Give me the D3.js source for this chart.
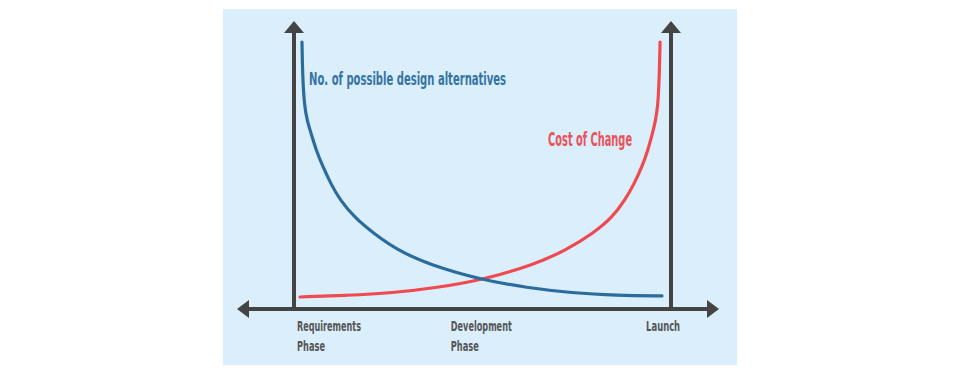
<!DOCTYPE html>
<html>
<head>
<meta charset="utf-8">
<script src="https://cdn.jsdelivr.net/npm/d3@7"></script>
<style>
  body { margin: 0; background: #fff; }
  text { font-family: "Liberation Sans Narrow", "DejaVu Sans Condensed", "Roboto", sans-serif; font-weight: bold; }
</style>
</head>
<body>
<script>
var w = 960, h = 372;

// project progress (0 = start, 100 = launch) vs relative level
var designX = [2.12, 2.2, 2.4, 2.8, 3.5, 4.51, 5.84, 7.69, 9.81, 12.2, 16.18, 20.95, 27.32, 36.07, 49.87, 61.7, 73.7, 85.7, 97.61];
var designY = [100, 93, 84, 76, 70.5, 65.9, 59.6, 53.2, 46.8, 40.8, 34.1, 28.5, 22.1, 16.5, 10.9, 8.0, 6.0, 5.1, 4.9];
var costX = [1.6, 14, 26, 38, 49.87, 63.5, 72.3, 79.5, 84.3, 87.8, 90.2, 92.3, 93.9, 95.1, 95.9, 96.5, 96.8, 97.0, 97.1];
var costY = [4.5, 5.1, 6.0, 8.0, 10.9, 16.5, 22.1, 28.5, 34.1, 40.8, 46.8, 53.2, 59.6, 65.9, 70.5, 76, 84, 93, 100];

var phaseLines = [["Requirements", "Phase"], ["Development", "Phase"], ["Launch"]];
var phaseAt = [0.8, 41.6, 93.4];
var phaseWidths = [[64, 28], [61, 28], [34]];

var svg = d3.select("body").append("svg").attr("width", w).attr("height", h);

svg.append("rect")
    .attr("x", 223).attr("y", 9)
    .attr("width", 514).attr("height", 356)
    .style("fill", "#dbeefc");

var xScale = d3.scaleLinear().domain([0, 100]).range([294, 671]);
var yScale = d3.scaleLinear().domain([0, 100]).range([309, 42]);

var axisColor = "#444444";
var x0 = xScale(0), x1 = xScale(100), y0 = yScale(0);
var arrowTop = 21;

// axis lines
svg.append("line").attr("x1", 245).attr("x2", 711).attr("y1", y0).attr("y2", y0)
    .style("stroke", axisColor).style("stroke-width", 4);
[x0, x1].forEach(function (xx) {
    svg.append("line").attr("x1", xx).attr("x2", xx).attr("y1", y0 + 2).attr("y2", arrowTop + 8)
        .style("stroke", axisColor).style("stroke-width", 4);
    svg.append("path")
        .attr("d", "M" + xx + "," + arrowTop + "L" + (xx + 10) + "," + (arrowTop + 12) + "L" + (xx - 10) + "," + (arrowTop + 12) + "Z")
        .style("fill", axisColor);
});
svg.append("path")
    .attr("d", "M237," + y0 + "L249," + (y0 - 9) + "L249," + (y0 + 9) + "Z")
    .style("fill", axisColor);
svg.append("path")
    .attr("d", "M719," + y0 + "L707," + (y0 - 9) + "L707," + (y0 + 9) + "Z")
    .style("fill", axisColor);

var line = d3.line()
    .x(function (d) { return xScale(d[0]); })
    .y(function (d) { return yScale(d[1]); })
    .curve(d3.curveBasis);

svg.append("path")
    .attr("d", line(d3.zip(costX, costY)))
    .style("fill", "none").style("stroke", "#ee4a50").style("stroke-width", 3.2)
    .style("stroke-linecap", "round");

svg.append("path")
    .attr("d", line(d3.zip(designX, designY)))
    .style("fill", "none").style("stroke", "#2b6c9c").style("stroke-width", 3.2)
    .style("stroke-linecap", "round");

// series labels
svg.append("text")
    .attr("x", xScale(4.0)).attr("y", 85)
    .attr("textLength", 197).attr("lengthAdjust", "spacingAndGlyphs")
    .style("font-size", "18px").style("fill", "#3474a3")
    .text("No. of possible design alternatives");

svg.append("text")
    .attr("x", xScale(67.4)).attr("y", 146)
    .attr("textLength", 84).attr("lengthAdjust", "spacingAndGlyphs")
    .style("font-size", "19.5px").style("fill", "#e9535a")
    .text("Cost of Change");

// phase labels
phaseLines.forEach(function (lines, i) {
    lines.forEach(function (s, j) {
        svg.append("text")
            .attr("x", xScale(phaseAt[i])).attr("y", 331 + j * 20)
            .attr("textLength", phaseWidths[i][j]).attr("lengthAdjust", "spacingAndGlyphs")
            .style("font-size", "14px").style("fill", "#555555")
            .text(s);
    });
});
</script>
</body>
</html>
